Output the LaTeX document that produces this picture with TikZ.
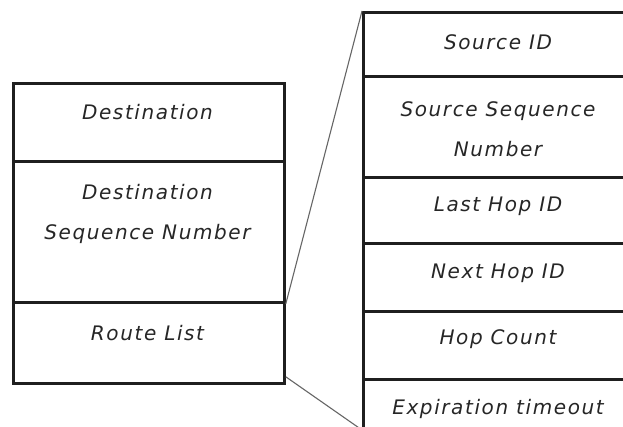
\documentclass[tikz,border=0pt]{standalone}
\usepackage{fontspec}
\newfontfamily\cellfont[LetterSpace=8]{DejaVu Sans}
\begin{document}
\begin{tikzpicture}[x=1pt,y=-1pt,
  cell/.style={draw=black!88, line width=2.8pt, rectangle, inner sep=0pt, anchor=north west},
  field/.style={font=\cellfont\itshape\fontsize{20}{40}\selectfont, text=black!85, align=center, inner sep=0pt},
  zoomline/.style={draw=black!60, line width=1.1pt}]
  \useasboundingbox (0,0) rectangle (623,427);
  \clip (0,0) rectangle (623,427);
  \fill[white] (0,0) rectangle (623,427);

  % route table entry
  \node[cell, minimum width=271pt, minimum height=78pt]  (lc1) at (12,82)  {};
  \node[cell, minimum width=271pt, minimum height=141pt] (lc2) at (12,160) {};
  \node[cell, minimum width=271pt, minimum height=81pt]  (lc3) at (12,301) {};

  % route list record
  \node[cell, minimum width=290pt, minimum height=64pt]  (rc1) at (362,11)  {};
  \node[cell, minimum width=290pt, minimum height=101pt] (rc2) at (362,75)  {};
  \node[cell, minimum width=290pt, minimum height=66pt]  (rc3) at (362,176) {};
  \node[cell, minimum width=290pt, minimum height=68pt]  (rc4) at (362,242) {};
  \node[cell, minimum width=290pt, minimum height=68pt]  (rc5) at (362,310) {};
  \node[cell, minimum width=290pt, minimum height=60pt]  (rc6) at (362,378) {};

  % field names
  \node[field] (tdest) at (147.5,112) {Destination};
  \node[field] (tdseq) at (147.5,214) {Destination\\Sequence Number};
  \node[field] (troute) at (147.5,333) {Route List};
  \node[field] (tsrc) at (498,42) {Source ID};
  \node[field] (tsseq) at (498,129) {Source Sequence\\Number};
  \node[field] (tlast) at (498,206) {Last Hop ID};
  \node[field] (tnext) at (498,273) {Next Hop ID};
  \node[field] (thops) at (498,339) {Hop Count};
  \node[field] (texp) at (498,409) {Expiration timeout};

  % expansion lines
  \coordinate (rbot) at (362,430);
  \draw[zoomline] (lc2.south east) -- (rc1.north west);
  \draw[zoomline] ([yshift=8pt]lc3.south east) -- (rbot);
\end{tikzpicture}
\end{document}
